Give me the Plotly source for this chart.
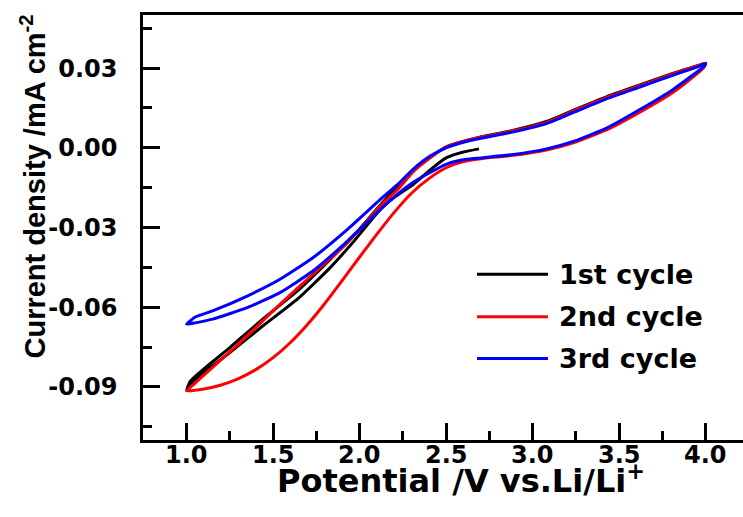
import plotly.graph_objects as go

# ---- data ----
series_names = ["1st cycle", "2nd cycle", "3rd cycle"]
series_colors = ["#000000", "#FF0000", "#0000FF"]

potential_1st = [2.69, 2.60, 2.50, 2.41, 2.31, 2.21, 2.12, 1.96, 1.83, 1.64, 1.44, 1.25, 1.10, 1.03, 1.00,
                 1.02, 1.06, 1.15, 1.25, 1.44, 1.64, 1.83, 1.98, 2.12, 2.31, 2.50, 2.70, 2.89, 3.08, 3.24,
                 3.43, 3.62, 3.81, 4.00]
current_1st = [-0.0004, -0.0016, -0.0038, -0.0082, -0.0138, -0.0182, -0.0232, -0.0357, -0.0451, -0.0570,
               -0.0671, -0.0771, -0.0845, -0.0885, -0.0912,
               -0.0880, -0.0855, -0.0805, -0.0752, -0.0645, -0.0539, -0.0420, -0.0320, -0.0215, -0.0085,
               0.0004, 0.0041, 0.0066, 0.0099, 0.0143, 0.0193, 0.0237, 0.0280, 0.0319]

potential_2nd = [1.00, 1.05, 1.15, 1.35, 1.54, 1.73, 1.93, 2.12, 2.23, 2.31, 2.41, 2.50, 2.60, 2.70, 2.89,
                 3.08, 3.24, 3.43, 3.62, 3.81, 3.95, 4.00,
                 3.99, 3.93, 3.81, 3.62, 3.43, 3.24, 3.08, 2.89, 2.70, 2.60, 2.50, 2.40, 2.30, 2.20,
                 2.10, 2.00, 1.90, 1.80, 1.70, 1.60, 1.50, 1.40, 1.30, 1.20, 1.10, 1.00]
current_2nd = [-0.0915, -0.0885, -0.0827, -0.0708, -0.0589, -0.0476, -0.0357, -0.0219, -0.0150, -0.0090,
               -0.0037, 0.0003, 0.0025, 0.0040, 0.0064, 0.0096, 0.0140, 0.0190, 0.0234, 0.0278, 0.0308,
               0.0319,
               0.0303, 0.0268, 0.0208, 0.0134, 0.0068, 0.0020, -0.0008, -0.0028, -0.0041, -0.0052,
               -0.0075, -0.0116, -0.0171, -0.0243, -0.0325, -0.0411, -0.0499, -0.0585, -0.0664, -0.0733,
               -0.0790, -0.0835, -0.0869, -0.0893, -0.0908, -0.0915]

potential_3rd = [1.00, 1.05, 1.15, 1.35, 1.54, 1.73, 1.93, 2.12, 2.23, 2.31, 2.41, 2.50, 2.60, 2.70, 2.89,
                 3.08, 3.24, 3.43, 3.62, 3.81, 3.95, 4.00,
                 3.99, 3.93, 3.81, 3.62, 3.43, 3.24, 3.08, 2.89, 2.70, 2.60, 2.50, 2.41, 2.31, 2.23,
                 2.12, 1.93, 1.73, 1.54, 1.35, 1.15, 1.05, 1.00]
current_3rd = [-0.0664, -0.0637, -0.0614, -0.0558, -0.0495, -0.0414, -0.0307, -0.0194, -0.0132, -0.0080,
               -0.0030, 0.0000, 0.0021, 0.0036, 0.0060, 0.0091, 0.0134, 0.0185, 0.0229, 0.0273, 0.0304,
               0.0317,
               0.0306, 0.0276, 0.0219, 0.0144, 0.0075, 0.0025, -0.0004, -0.0025, -0.0038, -0.0045,
               -0.0062, -0.0092, -0.0130, -0.0169, -0.0232, -0.0351, -0.0464, -0.0545, -0.0602, -0.0645,
               -0.0659, -0.0664]

x_tick_vals = [1.0, 1.5, 2.0, 2.5, 3.0, 3.5, 4.0]
x_tick_text = ["1.0", "1.5", "2.0", "2.5", "3.0", "3.5", "4.0"]
y_tick_vals = [-0.09, -0.06, -0.03, 0.00, 0.03]
y_tick_text = ["-0.09", "-0.06", "-0.03", "0.00", "0.03"]

x_title = "Potential /V vs.Li/Li<sup>+</sup>"
y_title = "Current density /mA cm<sup>-2</sup>"

potentials = [potential_1st, potential_2nd, potential_3rd]
currents = [current_1st, current_2nd, current_3rd]

# ---- figure ----
fig = go.Figure()
for name, color, xs, ys in zip(series_names, series_colors, potentials, currents):
    fig.add_trace(go.Scatter(x=xs, y=ys, mode="lines", name=name,
                             line=dict(color=color, width=3, shape="spline", smoothing=0.5),
                             showlegend=False))

tick_font = dict(family="DejaVu Sans", size=24, color="black", weight="bold")

axis_common = dict(showgrid=False, zeroline=False, showline=True, linecolor="black", linewidth=2.5,
                   ticks="inside", ticklen=17, tickwidth=2.5, tickcolor="black", tickfont=tick_font)

fig.update_xaxes(range=[0.748, 4.216], mirror=True, tickvals=x_tick_vals, ticktext=x_tick_text,
                 showticklabels=False,
                 minor=dict(ticks="inside", ticklen=9, tickwidth=2.5, tickcolor="black",
                            dtick=0.25, tick0=0), **axis_common)
fig.update_yaxes(range=[-0.11, 0.05], mirror=False, tickvals=y_tick_vals, ticktext=y_tick_text,
                 ticklabelstandoff=18,
                 minor=dict(ticks="inside", ticklen=9, tickwidth=2.5, tickcolor="black",
                            dtick=0.015, tick0=0), **axis_common)

annotations = []
# x tick labels placed close under the axis, as in the reference
for v, t in zip(x_tick_vals, x_tick_text):
    annotations.append(dict(text=t, xref="x", yref="paper", x=v, y=0, xanchor="center", yanchor="top",
                            yshift=1, showarrow=False, font=tick_font))

annotations += [
    dict(text=x_title, xref="paper", yref="paper", x=0.53, y=-0.0918, xanchor="center", yanchor="middle",
         showarrow=False, font=dict(family="DejaVu Sans", size=32, color="black", weight="bold")),
    dict(text=y_title, xref="paper", yref="paper", x=-0.1833, y=0.5965, xanchor="center", yanchor="middle",
         textangle=-90, showarrow=False,
         font=dict(family="Liberation Sans", size=29, color="black", weight="bold")),
]

# legend drawn manually (long sample lines like the reference)
shapes = []
legend_x0, legend_x1, legend_text_x = 0.5567, 0.675, 0.69
legend_ys = [0.39, 0.29, 0.192]
for name, color, ly in zip(series_names, series_colors, legend_ys):
    shapes.append(dict(type="line", xref="paper", yref="paper", x0=legend_x0, x1=legend_x1, y0=ly, y1=ly,
                       line=dict(color=color, width=3)))
    annotations.append(dict(text=name, xref="paper", yref="paper", x=legend_text_x, y=ly,
                            xanchor="left", yanchor="middle", showarrow=False,
                            font=dict(family="DejaVu Sans", size=27, color="black", weight="bold")))

fig.update_layout(width=743, height=517, margin=dict(l=143, r=0, t=15, b=77),
                  plot_bgcolor="white", paper_bgcolor="white", showlegend=False,
                  annotations=annotations, shapes=shapes)

fig.write_html("out.html")
